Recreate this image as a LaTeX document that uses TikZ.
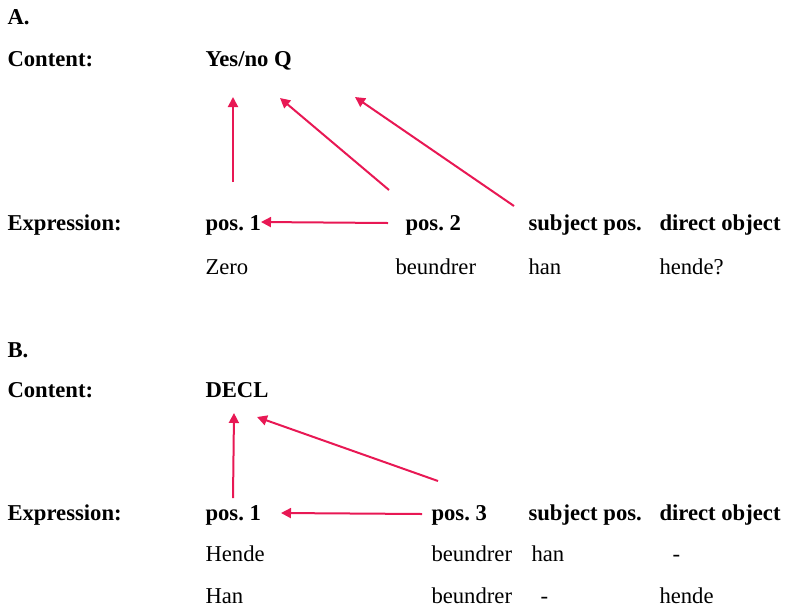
\documentclass[tikz,border=0pt]{standalone}
\usepackage{fontspec}
\setmainfont{Liberation Serif}
\usetikzlibrary{arrows.meta}

\definecolor{arrowred}{RGB}{232,24,84}
\tikzset{every picture/.style={line width=0.75pt}}
\tikzset{
  lbl/.style={anchor=west,inner sep=0pt,text height=1.6ex,text depth=.4ex,yshift=-3pt,
    font=\fontsize{17}{20}\selectfont},
  hd/.style={lbl,font=\fontsize{17}{20}\selectfont\bfseries},
  rel/.style={draw=arrowred,line width=1.5pt,-{Triangle[length=7.5pt,width=7.5pt]}}
}
\frenchspacing

\begin{document}
\begin{tikzpicture}[x=0.75pt,y=0.75pt,yscale=-1,xscale=1]
\useasboundingbox (0,0) rectangle (785,608);

% Part A: labels
\node[hd] (secA) at (7,17) {A.};
\node[hd] (contA) at (7,59) {Content:};
\node[hd] (ynq) at (205,59) {Yes/no Q};
\node[hd] (exprA) at (7,223) {Expression:};
\node[hd] (aposI) at (205,223) {pos. 1};
\node[hd] (aposII) at (405,223) {pos. 2};
\node[hd] (asubj) at (528,223) {subject pos.};
\node[hd] (aobj) at (659,223) {direct object};
\node[lbl] (zero) at (205,267) {Zero};
\node[lbl] (abeu) at (395,267) {beundrer};
\node[lbl] (ahan) at (528,267) {han};
\node[lbl] (ahende) at (659,267) {hende?};

% Part A: arrows
\coordinate (a1s) at (233,182);
\coordinate (a1e) at (233,97);
\coordinate (a2s) at (389,190);
\coordinate (a2e) at (280,98);
\coordinate (a3s) at (514,206);
\coordinate (a3e) at (355,97);
\coordinate (a4s) at (388,223);
\coordinate (a4e) at (261,222);
\draw[rel] (a1s) -- (a1e);
\draw[rel] (a2s) -- (a2e);
\draw[rel] (a3s) -- (a3e);
\draw[rel] (a4s) -- (a4e);

% Part B: labels
\node[hd] (secB) at (7,350) {B.};
\node[hd] (contB) at (7,390) {Content:};
\node[hd] (decl) at (205,390) {DECL};
\node[hd] (exprB) at (7,513) {Expression:};
\node[hd] (bposI) at (205,513) {pos. 1};
\node[hd] (bposIII) at (431,513) {pos. 3};
\node[hd] (bsubj) at (528,513) {subject pos.};
\node[hd] (bobj) at (659,513) {direct object};
\node[lbl] (hendeI) at (205,554) {Hende};
\node[lbl] (bbeuI) at (431,554) {beundrer};
\node[lbl] (bhanI) at (531,554) {han};
\node[lbl] (bdashI) at (672,554) {-};
\node[lbl] (hanII) at (205,596) {Han};
\node[lbl] (bbeuII) at (431,596) {beundrer};
\node[lbl] (bdashII) at (540,596) {-};
\node[lbl] (bhendeII) at (659,596) {hende};

% Part B: arrows
\coordinate (b1s) at (233,498);
\coordinate (b1e) at (234,413);
\coordinate (b2s) at (438,481);
\coordinate (b2e) at (257,417);
\coordinate (b3s) at (422,514);
\coordinate (b3e) at (281,513);
\draw[rel] (b1s) -- (b1e);
\draw[rel] (b2s) -- (b2e);
\draw[rel] (b3s) -- (b3e);

\end{tikzpicture}
\end{document}
